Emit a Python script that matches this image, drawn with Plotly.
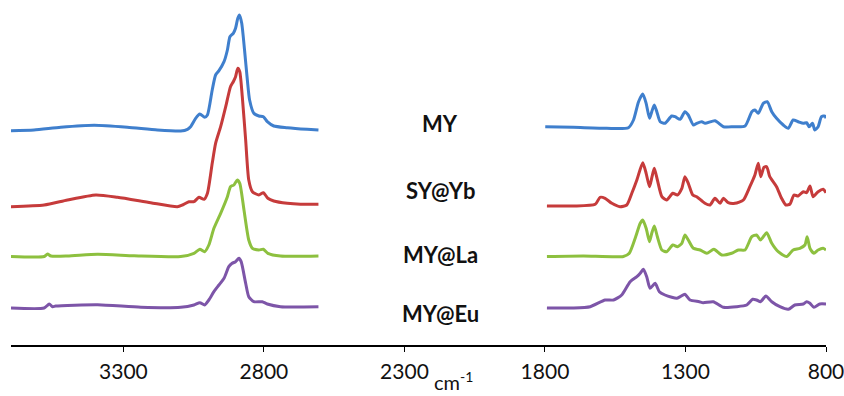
import plotly.graph_objects as go

# ---------------- data ----------------
sample_names = ["MY", "SY@Yb", "MY@La", "MY@Eu"]
line_colors = ["#3F7FCD", "#C63B3B", "#8DC03F", "#7D55A8"]
stack_offsets = [2.15, 1.39, 0.885, 0.37]   # vertical stacking of spectra (a.u.)

tick_values = [3300, 2800, 2300, 1800, 1300, 800]

# ---- high wavenumber window (3700 - 2600 cm-1) ----
my_hi_wn = [3700, 3618, 3523, 3404, 3286, 3179, 3096, 3072, 3061, 3043, 3028, 3011, 3001, 2984,
            2972, 2960, 2942, 2930, 2921, 2909, 2901, 2893, 2887, 2879, 2869, 2859, 2851, 2836,
            2818, 2802, 2788, 2765, 2717, 2646, 2606]
my_hi_abs = [-0.007, 0.0, 0.027, 0.047, 0.027, 0.0, -0.01, 0.007, 0.033, 0.117, 0.16, 0.127, 0.15, 0.40,
             0.55, 0.593, 0.683, 0.80, 0.933, 0.967, 1.017, 1.117, 1.15, 1.067, 0.80, 0.50, 0.30, 0.167,
             0.14, 0.133, 0.083, 0.04, 0.023, 0.007, 0.0]

sy_hi_wn = [3700, 3582, 3499, 3398, 3321, 3203, 3108, 3090, 3067, 3049, 3031, 3013, 3001, 2984,
            2972, 2954, 2936, 2919, 2909, 2901, 2893, 2886, 2877, 2865, 2854, 2841, 2818, 2802,
            2786, 2765, 2717, 2670, 2606]
sy_hi_abs = [-0.007, 0.01, 0.06, 0.11, 0.087, 0.033, -0.007, 0.01, 0.043, 0.043, 0.087, 0.067, 0.127, 0.427,
             0.627, 0.793, 0.993, 1.193, 1.243, 1.293, 1.377, 1.343, 1.093, 0.66, 0.26, 0.143, 0.11, 0.133,
             0.077, 0.05, 0.027, 0.017, 0.017]

la_hi_wn = [3700, 3582, 3570, 3558, 3499, 3392, 3262, 3096, 3049, 3028, 3011, 2996, 2978, 2954,
            2930, 2919, 2907, 2895, 2886, 2871, 2854, 2841, 2818, 2802, 2786, 2741, 2606]
la_hi_abs = [0.0, 0.0, 0.025, 0.005, 0.005, 0.022, 0.008, 0.0, 0.032, 0.072, 0.048, 0.115, 0.282, 0.432,
             0.598, 0.698, 0.715, 0.765, 0.732, 0.465, 0.165, 0.082, 0.065, 0.072, 0.032, 0.005, 0.005]

eu_hi_wn = [3700, 3582, 3564, 3552, 3541, 3392, 3238, 3096, 3049, 3028, 3011, 2996, 2978, 2960,
            2942, 2925, 2913, 2901, 2889, 2881, 2865, 2854, 2836, 2806, 2788, 2741, 2606]
eu_hi_abs = [0.0, 0.0, 0.04, 0.013, 0.02, 0.033, 0.007, 0.007, 0.03, 0.053, 0.03, 0.08, 0.163, 0.23,
             0.297, 0.413, 0.447, 0.463, 0.497, 0.463, 0.247, 0.113, 0.063, 0.063, 0.04, 0.013, 0.013]

# ---- fingerprint window (1800 - 800 cm-1) ----
my_lo_wn = [1799, 1699, 1580, 1503, 1485, 1467, 1452, 1440, 1428, 1420, 1411, 1402, 1390, 1373,
            1349, 1337, 1319, 1302, 1290, 1272, 1260, 1242, 1230, 1195, 1165, 1130, 1088, 1064,
            1053, 1041, 1023, 1009, 993, 976, 952, 934, 917, 899, 881, 869, 860, 848, 840, 828,
            816, 804, 800]
my_lo_abs = [0.033, 0.027, 0.017, 0.023, 0.10, 0.283, 0.36, 0.267, 0.117, 0.183, 0.25, 0.183, 0.083, 0.067,
             0.14, 0.133, 0.107, 0.183, 0.15, 0.05, 0.067, 0.083, 0.067, 0.093, 0.033, 0.033, 0.04, 0.183,
             0.20, 0.167, 0.267, 0.283, 0.183, 0.117, 0.05, 0.017, 0.10, 0.083, 0.067, 0.073, 0.033, 0.067,
             0.0, 0.033, 0.133, 0.14, 0.117]

sy_lo_wn = [1793, 1699, 1621, 1604, 1586, 1562, 1533, 1509, 1491, 1473, 1452, 1440, 1428, 1419,
            1411, 1400, 1384, 1367, 1345, 1329, 1313, 1302, 1290, 1274, 1260, 1231, 1213, 1195,
            1177, 1165, 1148, 1124, 1094, 1071, 1053, 1041, 1032, 1021, 1011, 1000, 976, 958,
            943, 928, 914, 899, 881, 869, 857, 846, 828, 810, 800]
sy_lo_abs = [0.0, 0.0, 0.017, 0.087, 0.077, 0.027, -0.007, 0.01, 0.127, 0.26, 0.433, 0.327, 0.193, 0.293,
             0.377, 0.26, 0.093, 0.06, 0.127, 0.11, 0.177, 0.293, 0.227, 0.11, 0.093, 0.027, 0.01, 0.077,
             0.027, 0.077, 0.033, 0.027, 0.06, 0.193, 0.31, 0.427, 0.293, 0.387, 0.393, 0.293, 0.193, 0.077,
             0.01, 0.02, 0.11, 0.10, 0.143, 0.133, 0.20, 0.093, 0.143, 0.167, 0.133]

la_lo_wn = [1793, 1663, 1521, 1500, 1479, 1461, 1452, 1440, 1428, 1420, 1411, 1400, 1384, 1367,
            1345, 1329, 1313, 1302, 1290, 1272, 1248, 1224, 1199, 1171, 1136, 1112, 1088, 1064,
            1047, 1033, 1011, 993, 970, 940, 917, 893, 875, 867, 857, 843, 828, 810, 800]
la_lo_abs = [0.0, 0.005, 0.0, 0.032, 0.182, 0.332, 0.365, 0.282, 0.148, 0.232, 0.305, 0.198, 0.065, 0.048,
             0.115, 0.098, 0.132, 0.215, 0.165, 0.082, 0.065, 0.032, 0.072, 0.015, 0.032, 0.065, 0.065, 0.198,
             0.215, 0.165, 0.238, 0.132, 0.048, 0.0, 0.065, 0.082, 0.115, 0.198, 0.082, 0.032, 0.065, 0.082,
             0.065]

eu_lo_wn = [1793, 1699, 1639, 1586, 1556, 1527, 1497, 1473, 1461, 1450, 1438, 1426, 1408, 1393,
            1373, 1349, 1331, 1319, 1302, 1284, 1251, 1237, 1201, 1165, 1118, 1082, 1061, 1047,
            1033, 1014, 993, 964, 934, 911, 881, 869, 857, 843, 822, 800]
eu_lo_abs = [0.0, 0.0, 0.013, 0.08, 0.08, 0.13, 0.263, 0.313, 0.347, 0.387, 0.313, 0.197, 0.247, 0.163,
             0.13, 0.107, 0.097, 0.113, 0.137, 0.08, 0.063, 0.053, 0.063, 0.007, 0.013, 0.03, 0.087, 0.08,
             0.063, 0.12, 0.063, 0.013, -0.013, 0.03, 0.04, 0.063, 0.047, 0.007, 0.04, 0.04]

hi_wn = [my_hi_wn, sy_hi_wn, la_hi_wn, eu_hi_wn]
hi_abs = [my_hi_abs, sy_hi_abs, la_hi_abs, eu_hi_abs]
lo_wn = [my_lo_wn, sy_lo_wn, la_lo_wn, eu_lo_wn]
lo_abs = [my_lo_abs, sy_lo_abs, la_lo_abs, eu_lo_abs]

# label anchor positions (data units)
label_wn = 2172
label_y = [2.215, 1.55, 0.91, 0.32]

# ---------------- figure ----------------
fig = go.Figure()
for i, name in enumerate(sample_names):
    off = stack_offsets[i]
    xs = list(hi_wn[i]) + [None] + list(lo_wn[i])
    ys = [off + a for a in hi_abs[i]] + [None] + [off + a for a in lo_abs[i]]
    fig.add_trace(go.Scatter(
        x=xs, y=ys, mode="lines", name=name, connectgaps=False,
        line=dict(color=line_colors[i], width=3, shape="spline", smoothing=0.6),
        showlegend=False, hoverinfo="skip"))
    fig.add_annotation(x=label_wn, y=label_y[i], xref="x", yref="y", text=f"<b>{name}</b>",
                       showarrow=False, xanchor="center", yanchor="middle",
                       font=dict(family="Lato", size=22, color="#111111"))

fig.add_annotation(x=2126, y=-0.146, xref="x", yref="paper", text="cm<sup>-1</sup>",
                   showarrow=False, xanchor="center", yanchor="bottom", borderpad=0,
                   font=dict(family="Lato", size=20, color="#111111"))

fig.update_xaxes(range=[3700, 800], tickvals=tick_values,
                 ticktext=[str(v) for v in tick_values],
                 automargin=False, ticklabeloverflow="allow",
                 showgrid=False, zeroline=False, showline=True, linecolor="#000000", linewidth=1.5,
                 ticks="outside", ticklen=5, tickwidth=1.2, tickcolor="#000000",
                 ticklabelstandoff=2,
                 tickfont=dict(family="Lato", size=21, color="#111111"))
fig.update_yaxes(range=[0, 3.45], visible=False, showgrid=False, zeroline=False, automargin=False)

fig.update_layout(width=844, height=396, margin=dict(l=11, r=18, t=0, b=51, autoexpand=False),
                  plot_bgcolor="white", paper_bgcolor="white")

fig.write_html("out.html", config={"displayModeBar": False},
               post_script="document.body.style.margin='0';document.body.style.overflow='hidden';")
